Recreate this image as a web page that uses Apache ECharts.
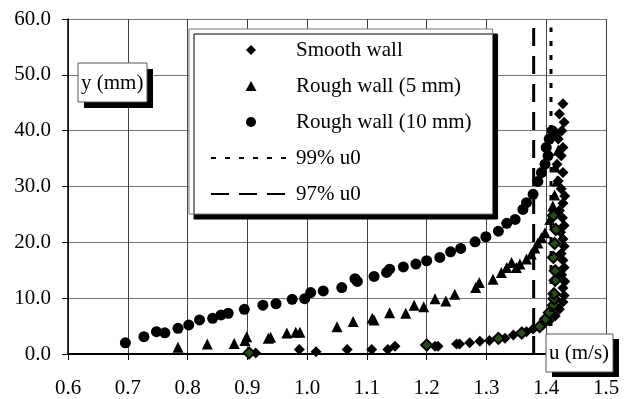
<!DOCTYPE html>
<html>
<head>
<meta charset="utf-8">
<script src="https://cdn.jsdelivr.net/npm/echarts@6/dist/echarts.min.js"></script>
<style>
html, body { margin: 0; padding: 0; background: #fff; }
#chart { width: 627px; height: 399px; }
</style>
</head>
<body>
<div id="chart"></div>
<script>
// velocity profiles, u in m/s, y in mm
var smoothU = [0.914, 0.987, 1.015, 1.067, 1.108, 1.135, 1.147, 1.214, 1.219, 1.250,
               1.255, 1.272, 1.289, 1.305, 1.331, 1.345, 1.367, 1.378, 1.395, 1.405,
               1.415, 1.422, 1.428, 1.430, 1.428, 1.431, 1.426, 1.430, 1.428, 1.425,
               1.430, 1.428, 1.424, 1.430, 1.427, 1.422, 1.428, 1.431, 1.425, 1.420,
               1.428, 1.418, 1.425, 1.428, 1.420, 1.426, 1.430, 1.422, 1.428];
var smoothY = [0.2, 0.8, 0.4, 0.8, 0.8, 0.8, 1.4, 1.4, 1.4, 1.8,
               1.8, 2.0, 2.3, 2.4, 2.8, 3.4, 4.0, 4.5, 5.3, 5.9,
               6.8, 8.0, 9.3, 10.5, 11.8, 13.0, 14.2, 15.5, 16.8, 18.0,
               19.3, 20.6, 21.8, 23.0, 24.4, 25.7, 27.0, 28.3, 29.6, 31.0,
               32.5, 34.0, 35.5, 37.0, 38.5, 40.0, 41.5, 43.0, 44.8];

// smooth wall points drawn in green in the original
var smoothGreenU = [0.903, 1.200, 1.320, 1.359, 1.389, 1.399, 1.405, 1.412, 1.413, 1.413,
                    1.415, 1.415, 1.412, 1.414, 1.416, 1.412];
var smoothGreenY = [0.2, 1.6, 2.8, 3.75, 4.9, 6.25, 7.4, 8.75, 9.9, 10.8,
                    13.2, 14.9, 17.3, 19.8, 22.3, 24.8];

var rough5U = [0.784, 0.833, 0.878, 0.896, 0.899, 0.935, 0.939, 0.966, 0.981, 0.988,
               1.050, 1.077, 1.109, 1.112, 1.138, 1.165, 1.179, 1.195, 1.214, 1.232,
               1.247, 1.282, 1.288, 1.311, 1.325, 1.334, 1.342, 1.350, 1.356, 1.367,
               1.375, 1.381, 1.386, 1.392, 1.398, 1.406, 1.411, 1.414, 1.418, 1.415,
               1.420, 1.418];
var rough5Y = [1.2, 1.8, 1.9, 2.4, 3.1, 2.8, 3.0, 3.75, 3.9, 3.9,
               4.9, 5.8, 6.4, 6.1, 7.4, 7.3, 8.75, 8.45, 9.9, 9.5,
               10.7, 11.9, 12.8, 13.4, 14.6, 15.5, 16.4, 15.5, 16.1, 17.0,
               17.9, 19.0, 19.9, 20.8, 21.7, 24.1, 26.5, 28.5, 31.0, 33.5,
               36.5, 39.5];

var rough10U = [0.696, 0.727, 0.748, 0.762, 0.784, 0.802, 0.820, 0.842, 0.856, 0.868,
                0.895, 0.926, 0.948, 0.975, 0.996, 1.006, 1.027, 1.058, 1.080, 1.084,
                1.112, 1.133, 1.138, 1.161, 1.182, 1.200, 1.222, 1.240, 1.257, 1.281,
                1.299, 1.320, 1.334, 1.348, 1.361, 1.367, 1.378, 1.386, 1.392, 1.398,
                1.403, 1.400, 1.405, 1.410];
var rough10Y = [2.0, 3.1, 4.0, 3.8, 4.6, 5.2, 6.1, 6.4, 7.0, 7.3,
                8.0, 8.75, 9.0, 9.8, 9.9, 11.0, 11.3, 11.9, 13.5, 13.0,
                13.9, 14.6, 15.2, 15.6, 16.1, 16.7, 17.3, 18.3, 18.9, 20.1,
                21.0, 22.0, 23.4, 24.1, 25.9, 27.1, 28.6, 30.9, 32.5, 34.0,
                35.5, 37.0, 38.5, 40.0];

// 99% and 97% of u0 (u0 ~ 1.422 m/s)
var u99 = 1.408;
var u97 = 1.379;
var refLineY = [0, 58.5];

var xTicks = { min: 0.6, max: 1.5, step: 0.1 };
var yTicks = { min: 0, max: 60, step: 10 };

function zip(us, ys) {
    return us.map(function (u, i) { return [u, ys[i]]; });
}

var font = 'Liberation Serif';
var myChart = echarts.init(document.getElementById('chart'));

// legend icons: the extra moveTo's stretch the box to 80x10 so the marker keeps its shape
var iconDiamond = 'path://M0 0M80 10M35 5L40 0L45 5L40 10Z';
var iconTriangle = 'path://M0 0M80 10M40 0L45.5 10L34.5 10Z';
var hideSymbol = { opacity: 0 };

myChart.setOption({
    animation: false,
    grid: { left: 68, right: 21, top: 19, bottom: 44 },
    xAxis: {
        type: 'value',
        min: xTicks.min,
        max: xTicks.max,
        interval: xTicks.step,
        axisLine: { lineStyle: { color: '#000', width: 2 } },
        axisTick: { length: 6, lineStyle: { color: '#000' } },
        splitLine: { lineStyle: { color: '#444', width: 1 } },
        axisLabel: {
            formatter: function (v) { return v.toFixed(1); },
            fontFamily: font, fontSize: 21, color: '#000', margin: 24
        }
    },
    yAxis: {
        type: 'value',
        min: yTicks.min,
        max: yTicks.max,
        interval: yTicks.step,
        axisLine: { show: true, lineStyle: { color: '#000', width: 1.5 } },
        axisTick: { show: true, length: 6, lineStyle: { color: '#000' } },
        splitLine: { lineStyle: { color: '#777', width: 1 } },
        axisLabel: {
            formatter: function (v) { return v.toFixed(1); },
            fontFamily: font, fontSize: 21, color: '#000', margin: 17
        }
    },
    legend: {
        orient: 'vertical',
        left: 189,
        top: 29,
        padding: [10, 21, 9, 21],
        itemGap: 14,
        itemWidth: 80,
        itemHeight: 10,
        selectedMode: false,
        backgroundColor: '#fff',
        borderColor: '#777',
        borderWidth: 1,
        shadowColor: '#000',
        shadowBlur: 0,
        shadowOffsetX: 5,
        shadowOffsetY: 5,
        textStyle: { fontFamily: font, fontSize: 21, color: '#000', lineHeight: 22 },
        data: [
            { name: 'Smooth wall', icon: iconDiamond },
            { name: 'Rough wall (5 mm)', icon: iconTriangle },
            { name: 'Rough wall (10 mm)', icon: 'circle' },
            { name: '99% u0', itemStyle: hideSymbol },
            { name: '97% u0', itemStyle: hideSymbol }
        ]
    },
    graphic: [
        { type: 'rect', z: 10, shape: { x: 84, y: 69, width: 69, height: 39 }, style: { fill: '#000' } },
        { type: 'rect', z: 11, shape: { x: 78, y: 63, width: 69, height: 39 }, style: { fill: '#fff', stroke: '#555', lineWidth: 1 } },
        { type: 'text', z: 12, style: { x: 81, y: 83, text: 'y (mm)', font: '21px "Liberation Serif"', fill: '#000', verticalAlign: 'middle' } },
        { type: 'rect', z: 10, shape: { x: 552, y: 339, width: 67, height: 38 }, style: { fill: '#000' } },
        { type: 'rect', z: 11, shape: { x: 546, y: 334, width: 67, height: 38 }, style: { fill: '#fff', stroke: '#555', lineWidth: 1 } },
        { type: 'text', z: 12, style: { x: 549, y: 353, text: 'u (m/s)', font: '21px "Liberation Serif"', fill: '#000', verticalAlign: 'middle' } }
    ],
    series: [
        {
            name: '99% u0',
            type: 'line',
            symbol: 'none',
            data: zip([u99, u99], refLineY),
            lineStyle: { color: '#000', width: 3, type: [5, 9] },
            itemStyle: { color: '#000' }
        },
        {
            name: '97% u0',
            type: 'line',
            symbol: 'none',
            data: zip([u97, u97], refLineY),
            lineStyle: { color: '#000', width: 3, type: [18, 10] },
            itemStyle: { color: '#000' }
        },
        {
            name: 'Rough wall (10 mm)',
            type: 'scatter',
            symbol: 'circle',
            symbolSize: 11,
            data: zip(rough10U, rough10Y),
            itemStyle: { color: '#000', opacity: 1 }
        },
        {
            name: 'Rough wall (5 mm)',
            type: 'scatter',
            symbol: 'triangle',
            symbolSize: 11,
            data: zip(rough5U, rough5Y),
            itemStyle: { color: '#000', opacity: 1 }
        },
        {
            name: 'Smooth wall',
            type: 'scatter',
            symbol: 'diamond',
            symbolSize: 11,
            data: zip(smoothU, smoothY),
            itemStyle: { color: '#000', opacity: 1 }
        },
        {
            name: 'Smooth wall (green)',
            type: 'scatter',
            symbol: 'diamond',
            symbolSize: 11,
            data: zip(smoothGreenU, smoothGreenY),
            itemStyle: { color: '#264d17', borderColor: '#000', borderWidth: 2, opacity: 1 }
        }
    ]
});
</script>
</body>
</html>
